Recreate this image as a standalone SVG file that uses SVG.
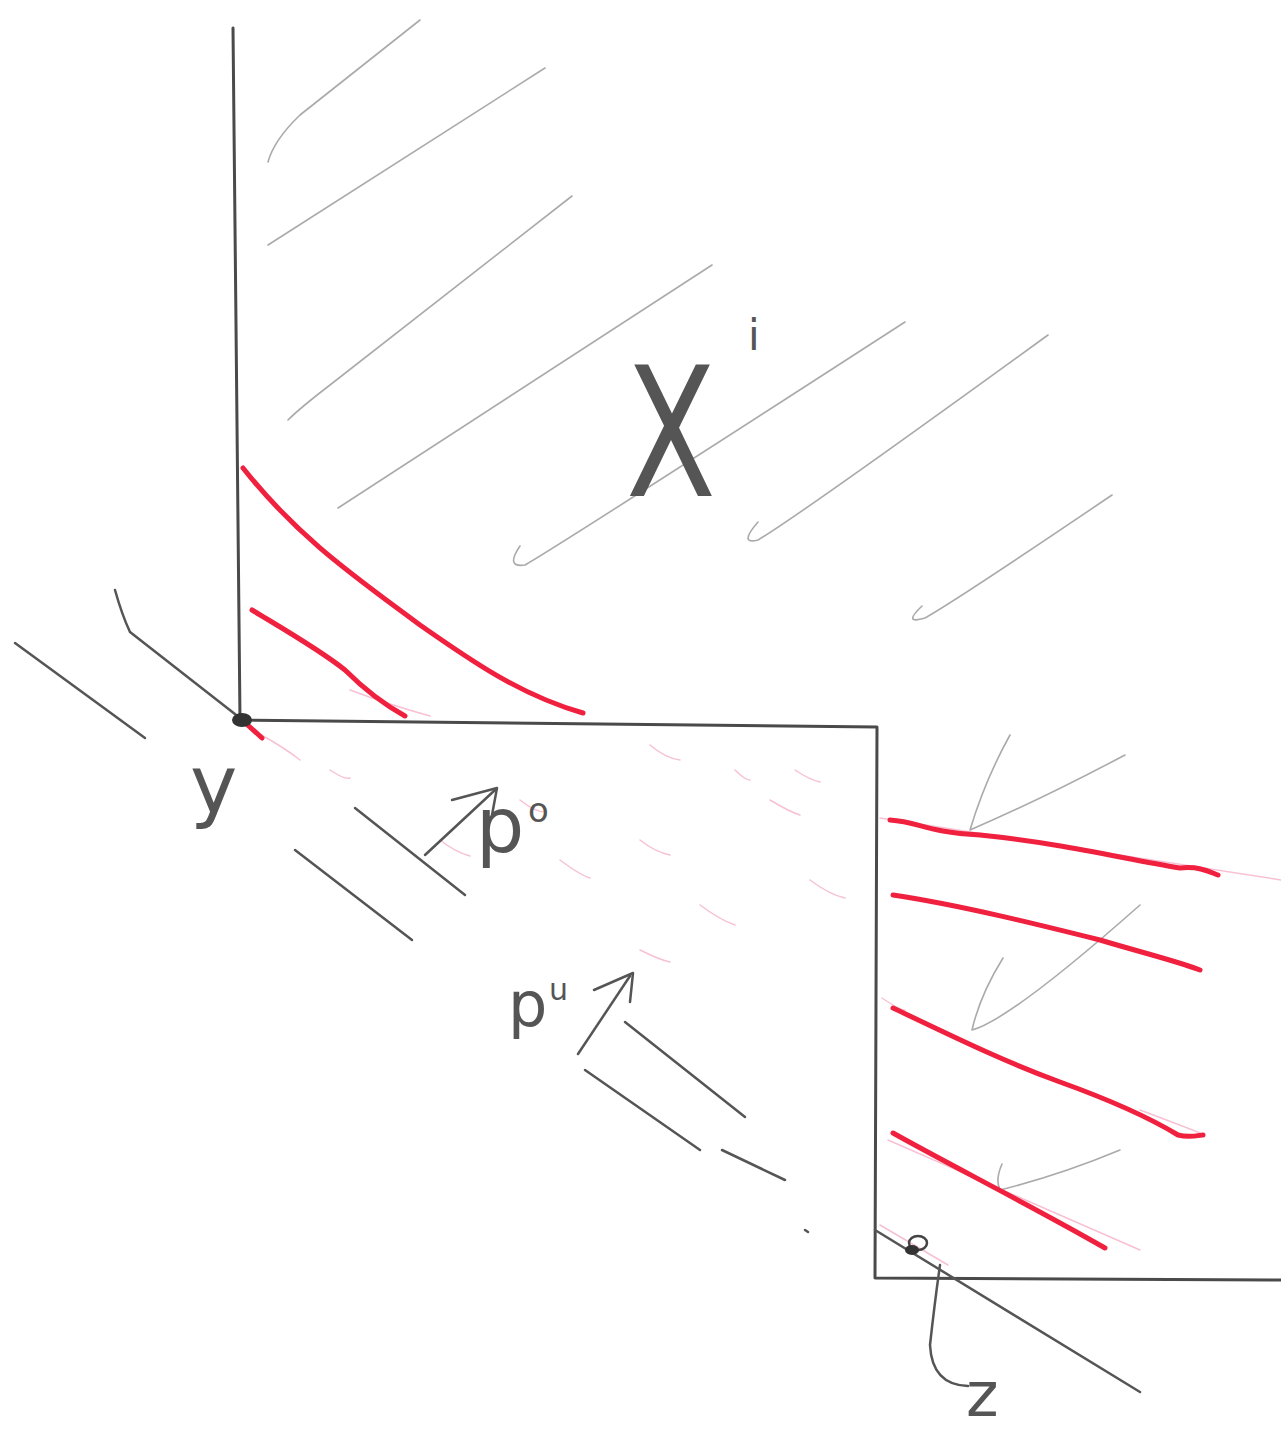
<svg xmlns="http://www.w3.org/2000/svg" width="1281" height="1437" viewBox="0 0 1281 1437">
<defs>
<style>
.axis{fill:none;stroke:#4a4a4a;stroke-width:3;stroke-linecap:round;stroke-linejoin:round}
.pen{fill:none;stroke:#555;stroke-width:2.5;stroke-linecap:round;stroke-linejoin:round}
.hatch{fill:none;stroke:#aaa;stroke-width:1.6;stroke-linecap:round;stroke-linejoin:round}
.red{fill:none;stroke:#f0203f;stroke-width:5;stroke-linecap:round;stroke-linejoin:round}
.pink{fill:none;stroke:#f4a6c0;stroke-width:1.5;stroke-linecap:round;opacity:0.7}
.lbl{font-family:"DejaVu Sans","Liberation Sans",sans-serif;fill:#555}
</style>
</defs>
<rect width="1281" height="1437" fill="#ffffff"/>
<g id="axes">
<path class="axis" d="M233,28 L240,720 L877,727 L875,1278 L1281,1280"/>
</g>
<g id="hatching">
<path class="hatch" d="M268,162 Q274,140 300,115 L420,20"/>
<path class="hatch" d="M268,245 L545,68"/>
<path class="hatch" d="M288,420 Q300,408 330,385 L572,196"/>
<path class="hatch" d="M338,508 L712,265"/>
<path class="hatch" d="M520,546 Q505,568 525,565 Q560,545 905,322"/>
<path class="hatch" d="M758,522 Q738,545 758,540 Q800,515 1048,335"/>
<path class="hatch" d="M922,606 Q902,625 925,618 Q960,598 1112,495"/>
<path class="hatch" d="M1010,735 Q985,780 970,830 Q1040,800 1125,755"/>
<path class="hatch" d="M1003,958 Q980,995 972,1030 Q1010,1020 1140,905"/>
<path class="hatch" d="M1002,1164 Q995,1180 1000,1190 Q1060,1175 1120,1150"/>
</g>
<g id="pink-marks">
<path class="pink" d="M258,733 Q285,748 300,760"/>
<path class="pink" d="M330,770 Q345,780 350,778"/>
<path class="pink" d="M350,690 Q390,705 430,716"/>
<path class="pink" d="M440,840 Q455,852 470,856"/>
<path class="pink" d="M520,800 Q535,812 545,812"/>
<path class="pink" d="M560,860 Q580,875 590,878"/>
<path class="pink" d="M650,745 Q665,758 680,760"/>
<path class="pink" d="M640,840 Q655,852 670,855"/>
<path class="pink" d="M700,905 Q720,920 735,925"/>
<path class="pink" d="M735,770 Q745,780 750,780"/>
<path class="pink" d="M770,800 Q790,812 800,815"/>
<path class="pink" d="M810,880 Q830,895 845,898"/>
<path class="pink" d="M795,770 Q810,780 820,782"/>
<path class="pink" d="M640,950 Q660,960 670,962"/>
<path class="pink" d="M880,818 L1281,880"/>
<path class="pink" d="M882,998 Q900,1010 905,1010"/>
<path class="pink" d="M1140,1110 Q1180,1125 1200,1133"/>
<path class="pink" d="M888,1140 L1140,1250"/>
<path class="pink" d="M880,1225 L948,1265"/>
</g>
<g id="red-curves">
<path class="red" d="M243,468 C300,540 360,580 420,625 C470,660 520,695 583,713"/>
<path class="red" d="M252,610 C285,630 320,650 345,670 C365,690 385,705 405,716"/>
<path class="red" d="M890,820 C920,822 925,832 980,835 C1060,843 1120,858 1180,868 C1200,866 1210,872 1218,875"/>
<path class="red" d="M893,895 C960,905 1040,925 1100,940 C1140,952 1180,962 1200,970"/>
<path class="red" d="M893,1008 C950,1035 1000,1060 1060,1082 C1110,1100 1150,1118 1178,1135 C1190,1138 1200,1135 1203,1135"/>
<path class="red" d="M893,1133 C950,1165 1030,1205 1105,1248"/>
</g>
<g id="tangent-y">
<path class="pen" d="M115,590 Q122,615 130,632 L240,718"/>
<path class="red" d="M240,718 L262,738"/>
<ellipse cx="242" cy="720" rx="10" ry="7" fill="#333"/>
<path class="pen" d="M15,643 L145,738"/>
<path class="pen" d="M355,808 L465,895"/>
<path class="pen" d="M295,850 L412,940"/>
<path class="pen" d="M625,1022 L745,1117"/>
<path class="pen" d="M585,1070 L700,1150"/>
<path class="pen" d="M722,1150 L785,1180"/>
<path class="pen" d="M805,1230 L808,1232"/>
</g>
<g id="tangent-z">
<path class="pen" d="M875,1230 L1140,1392"/>
<ellipse cx="918" cy="1243" rx="9" ry="7" fill="none" stroke="#444" stroke-width="2.5"/>
<ellipse cx="912" cy="1250" rx="7" ry="5" fill="#333"/>
<path class="pen" d="M940,1265 Q935,1300 930,1345 Q932,1385 968,1386"/>
</g>
<g id="connectors">
<path class="pen" d="M425,855 L495,790"/>
<path class="pen" d="M452,800 L497,788 L492,815"/>
<path class="pen" d="M578,1054 L630,976"/>
<path class="pen" d="M594,990 L633,973 L630,1002"/>
</g>
<g id="label-x">
<text class="lbl" x="626" y="496" font-size="180" textLength="90" lengthAdjust="spacingAndGlyphs">X</text>
<text class="lbl" x="748" y="350" font-size="42">i</text>
</g>
<g id="label-y">
<text class="lbl" x="190" y="812" font-size="80">y</text>
</g>
<g id="label-po">
<text class="lbl" x="476" y="852" font-size="76">p</text>
<text class="lbl" x="528" y="822" font-size="34">o</text>
</g>
<g id="label-pu">
<text class="lbl" x="508" y="1026" font-size="62">p</text>
<text class="lbl" x="549" y="1000" font-size="30">u</text>
</g>
<g id="label-z">
<text class="lbl" x="966" y="1416" font-size="62">z</text>
</g>
</svg>
